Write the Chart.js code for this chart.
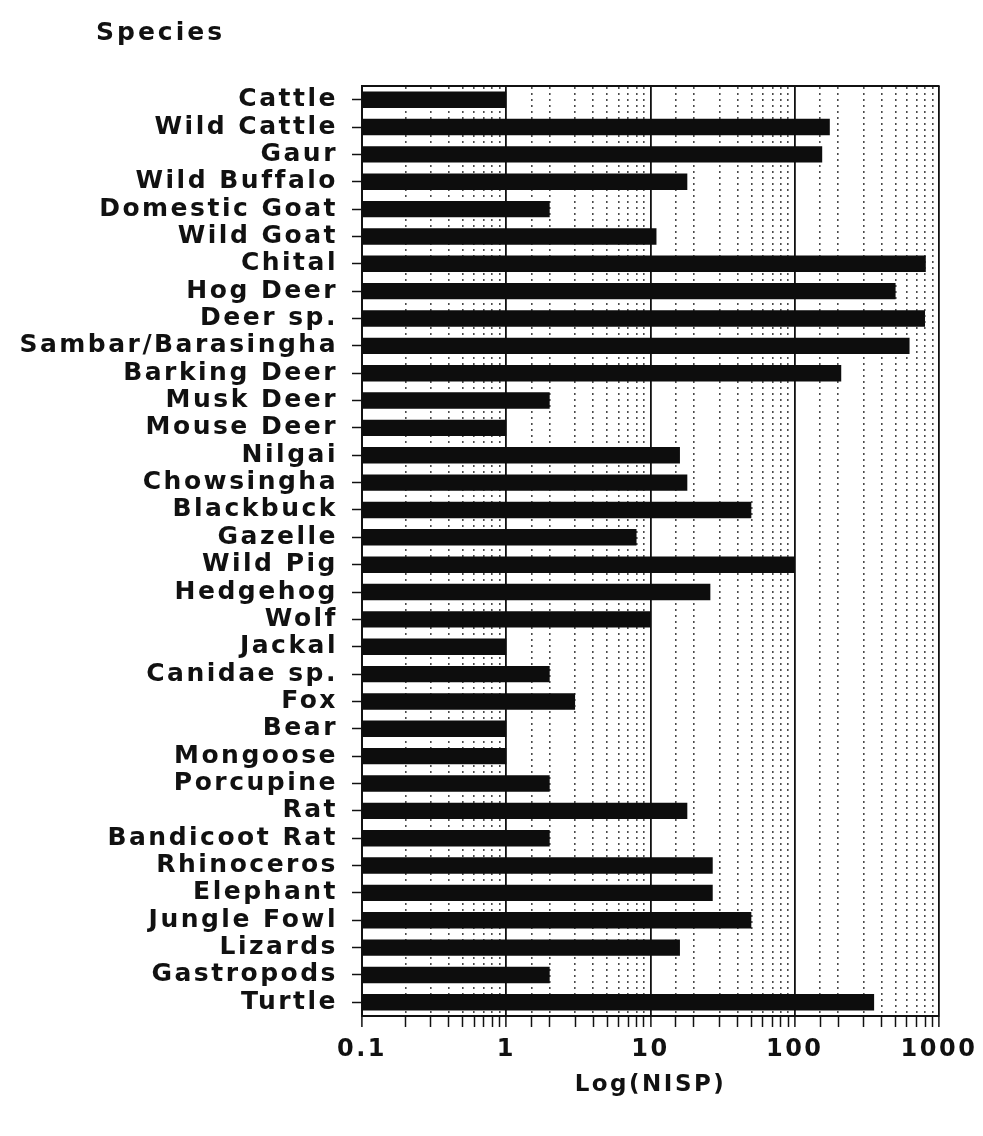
<!DOCTYPE html>
<html>
<head>
<meta charset="utf-8">
<script src="https://cdn.jsdelivr.net/npm/chart.js@4"></script>
<style>
  html, body { margin: 0; padding: 0; background: #ffffff; }
  #wrap { width: 983px; height: 1136px; }
</style>
</head>
<body>
<div id="wrap"><canvas id="chart" width="983" height="1136"></canvas></div>
<script>
// Species list (top to bottom) and number of identified specimens (NISP)
const species = [
  'Cattle', 'Wild Cattle', 'Gaur', 'Wild Buffalo', 'Domestic Goat', 'Wild Goat',
  'Chital', 'Hog Deer', 'Deer sp.', 'Sambar/Barasingha', 'Barking Deer', 'Musk Deer',
  'Mouse Deer', 'Nilgai', 'Chowsingha', 'Blackbuck', 'Gazelle', 'Wild Pig',
  'Hedgehog', 'Wolf', 'Jackal', 'Canidae sp.', 'Fox', 'Bear', 'Mongoose',
  'Porcupine', 'Rat', 'Bandicoot Rat', 'Rhinoceros', 'Elephant', 'Jungle Fowl',
  'Lizards', 'Gastropods', 'Turtle'
];
const nisp = [
  1, 175, 155, 18, 2, 11,
  810, 500, 800, 625, 210, 2,
  1, 16, 18, 50, 8, 100,
  26, 10, 1, 2, 3, 1, 1,
  2, 18, 2, 27, 27, 50,
  16, 2, 355
];
const xTickValues = [0.1, 1, 10, 100, 1000];
const xTickLabels = ['0.1', '1', '10', '100', '1000'];
const axisTitleX = 'Log(NISP)';
const axisTitleY = 'Species';

const isDecade = v => xTickValues.some(d => Math.abs(v - d) < 1e-9 * d);

// Wide, spaced lettering for all chart text
const spacing = {
  id: 'spacing',
  beforeDraw(chart) { chart.ctx.letterSpacing = '2.5px'; }
};

// "Species" heading above the category labels
const yHeading = {
  id: 'yHeading',
  afterDraw(chart) {
    const ctx = chart.ctx;
    ctx.save();
    ctx.letterSpacing = '3px';
    ctx.font = "bold 25px 'DejaVu Sans', sans-serif";
    ctx.fillStyle = '#111';
    ctx.textAlign = 'left';
    ctx.textBaseline = 'middle';
    ctx.fillText(axisTitleY, 96, 33);
    ctx.restore();
  }
};

Chart.defaults.font.family = "'DejaVu Sans', sans-serif";
Chart.defaults.color = '#111';

new Chart(document.getElementById('chart'), {
  type: 'bar',
  data: {
    labels: species,
    datasets: [{
      data: nisp,
      xAxisID: 'x',
      yAxisID: 'y',
      backgroundColor: '#0d0d0d',
      borderWidth: 0,
      barPercentage: 0.6,
      categoryPercentage: 1.0
    }]
  },
  options: {
    indexAxis: 'y',
    responsive: false,
    animation: false,
    devicePixelRatio: 1,
    layout: { padding: { top: 86, right: 44, bottom: 0, left: 0 } },
    plugins: {
      legend: { display: false },
      tooltip: { enabled: false }
    },
    scales: {
      y: {
        type: 'category',
        position: 'left',
        offset: true,
        grid: {
          offset: false,
          drawOnChartArea: false,
          drawTicks: true,
          tickLength: 10,
          tickColor: '#111',
          tickWidth: 1.5
        },
        border: { display: true, color: '#111', width: 2 },
        ticks: {
          autoSkip: false,
          padding: 14,
          color: '#111',
          font: { size: 25, weight: 'bold' }
        },
        afterFit(scale) { scale.width = 362; }
      },
      x: {
        type: 'logarithmic',
        position: 'bottom',
        min: 0.1,
        max: 1000,
        grid: {
          drawOnChartArea: true,
          color: ctx => (ctx.tick && isDecade(ctx.tick.value)) ? '#111' : 'rgba(0,0,0,0)',
          lineWidth: ctx => (ctx.tick && isDecade(ctx.tick.value)) ? 1.8 : 1,
          drawTicks: true,
          tickLength: 11,
          tickColor: '#111',
          tickWidth: 1.5
        },
        border: { display: true, color: '#111', width: 2 },
        ticks: {
          autoSkip: false,
          maxRotation: 0,
          minRotation: 0,
          padding: 8,
          color: '#111',
          font: { size: 24, weight: 'bold' },
          callback(value) {
            const i = xTickValues.findIndex(d => Math.abs(value - d) < 1e-9 * d);
            return i >= 0 ? xTickLabels[i] : '';
          }
        },
        title: {
          display: true,
          text: axisTitleX,
          color: '#111',
          font: { size: 23, weight: 'bold' },
          padding: { top: 0, bottom: 37 }
        },
        afterFit(scale) { scale.height = 120; }
      },
      xMinor: {
        type: 'logarithmic',
        position: 'top',
        min: 0.1,
        max: 1000,
        grid: {
          drawOnChartArea: true,
          drawTicks: false,
          color: ctx => (ctx.tick && isDecade(ctx.tick.value)) ? 'rgba(0,0,0,0)' : 'rgba(30,30,30,0.8)',
          lineWidth: 1.6
        },
        border: { display: true, color: '#111', width: 2, dash: [2, 4] },
        ticks: { display: false },
        afterFit(scale) { scale.height = 0; }
      }
    }
  },
  plugins: [spacing, yHeading]
});
</script>
</body>
</html>
